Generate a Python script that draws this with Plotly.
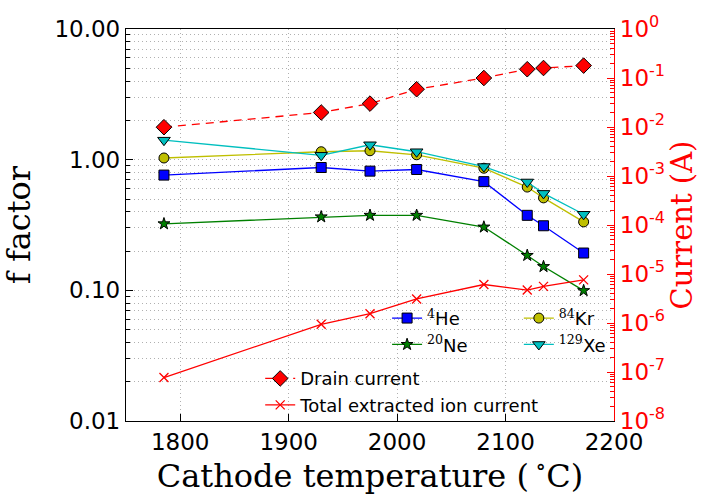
import plotly.graph_objects as go

# Cathode temperature (deg C) for each measurement
temperature = [1785, 1930, 1975, 2018, 2080, 2120, 2135, 2172]

# f factors per isotope
f_he4 = [0.762, 0.871, 0.817, 0.841, 0.679, 0.375, 0.312, 0.193]
f_ne20 = [0.323, 0.365, 0.375, 0.375, 0.305, 0.185, 0.152, 0.0995]
f_kr84 = [1.03, 1.15, 1.17, 1.09, 0.86, 0.617, 0.51, 0.334]
f_xe129 = [1.41, 1.08, 1.30, 1.15, 0.886, 0.675, 0.552, 0.382]

# Currents (A)
drain_current = [9.9e-3, 1.98e-2, 3.0e-2, 5.9e-2, 0.100, 0.151, 0.160, 0.179]
ion_current = [7.7e-8, 9.4e-7, 1.55e-6, 3.1e-6, 6.1e-6, 4.7e-6, 5.6e-6, 7.6e-6]

# Axis ticks
x_ticks = [1800, 1900, 2000, 2100, 2200]
f_tickvals = [0.01, 0.1, 1, 10]
f_ticktext = ["0.01", "0.10", "1.00", "10.00"]
i_exponents = [-8, -7, -6, -5, -4, -3, -2, -1, 0]

SANS = "DejaVu Sans"
SERIF = "DejaVu Serif"
GRID = "#b0b0b0"
GRID_DASH = "1px,3px"

fig = go.Figure()

def f_trace(y, name, color, symbol, size, legend):
    return go.Scatter(
        x=temperature, y=y, name=name, mode="lines+markers",
        line=dict(color=color, width=1.3),
        marker=dict(symbol=symbol, size=size, color=color,
                    line=dict(color="black", width=1)),
        legend=legend, yaxis="y",
    )

def iso(mass, element):
    return (f'<span style="font-family:{SERIF}"><sup>{mass}</sup></span>'
            f'{element}')

fig.add_trace(f_trace(f_he4, iso(4, "He"), "#0000ff", "square", 10, "legend"))
fig.add_trace(f_trace(f_ne20, iso(20, "Ne"), "#008000", "star", 9, "legend"))
fig.add_trace(f_trace(f_kr84, iso(84, "Kr"), "#bfbf00", "circle", 10, "legend3"))
fig.add_trace(f_trace(f_xe129, iso(129, "Xe"), "#00bfbf", "triangle-down", 11, "legend3"))

fig.add_trace(go.Scatter(
    x=temperature, y=drain_current, name="Drain current", mode="lines+markers",
    line=dict(color="#ff0000", width=1.3, dash="8px,6px"),
    marker=dict(symbol="diamond", size=12, color="#ff0000",
                line=dict(color="black", width=1)),
    yaxis="y2", legend="legend2",
))
fig.add_trace(go.Scatter(
    x=temperature, y=ion_current, name="Total extracted ion current",
    mode="lines+markers",
    line=dict(color="#ff0000", width=1.3),
    marker=dict(symbol="x-thin", size=9, line=dict(color="#ff0000", width=1.3)),
    yaxis="y2", legend="legend2",
))

f_minor = [m * 10 ** e for e in (-2, -1, 0) for m in range(2, 10)]
i_minor = [m * 10 ** e for e in range(-8, 0) for m in range(2, 10)]

legend_common = dict(
    bgcolor="rgba(0,0,0,0)", borderwidth=0, orientation="v",
    xanchor="left", yanchor="top", tracegroupgap=0,
)

fig.update_layout(
    width=705, height=495,
    margin=dict(l=126, r=91, t=22, b=74),
    paper_bgcolor="white", plot_bgcolor="white",
    font=dict(family=SANS, color="black"),
    xaxis=dict(
        range=[1750, 2200], tickvals=x_ticks,
        tickfont=dict(size=23, family=SANS),
        ticks="inside", ticklen=7, tickcolor="black",
        showline=True, linecolor="black", linewidth=1.3, mirror=True,
        showgrid=True, gridcolor=GRID, griddash=GRID_DASH, gridwidth=1,
        zeroline=False,
        title=dict(text="Cathode temperature (\u2009<sup>∘</sup>C)",
                   font=dict(size=32, family=SERIF), standoff=4),
    ),
    yaxis=dict(
        type="log", range=[-2, 1],
        tickvals=f_tickvals, ticktext=f_ticktext,
        tickfont=dict(size=23, family=SANS),
        ticks="inside", ticklen=7, tickcolor="black",
        showline=True, linecolor="black", linewidth=1.3,
        showgrid=True, gridcolor=GRID, griddash=GRID_DASH, gridwidth=1,
        minor=dict(tickvals=f_minor, ticks="inside", ticklen=4,
                   tickcolor="black", showgrid=True, gridcolor=GRID,
                   griddash=GRID_DASH, gridwidth=1),
        zeroline=False,
        title=dict(text="f factor", font=dict(size=32, family=SERIF),
                   standoff=20),
    ),
    yaxis2=dict(
        type="log", range=[-8, 0], overlaying="y", side="right",
        tickvals=[10 ** e for e in i_exponents],
        ticktext=[f"10<sup>{e}</sup>" for e in i_exponents],
        tickfont=dict(size=23, family=SANS, color="#ff0000"),
        ticks="inside", ticklen=7, tickcolor="#ff0000",
        showline=True, linecolor="#ff0000", linewidth=1.3,
        showgrid=False, zeroline=False,
        minor=dict(tickvals=i_minor, ticks="inside", ticklen=4,
                   tickcolor="#ff0000", showgrid=False),
        title=dict(text="Current (A)",
                   font=dict(size=29, family=SERIF, color="#ff0000"),
                   standoff=6),
    ),
    legend=dict(x=0.535, y=0.309, font=dict(size=18, family=SANS), **legend_common),
    legend3=dict(x=0.805, y=0.309, font=dict(size=18, family=SANS), **legend_common),
    legend2=dict(x=0.275, y=0.155, font=dict(size=18, family=SANS), **legend_common),
)

fig.write_html("out.html")
